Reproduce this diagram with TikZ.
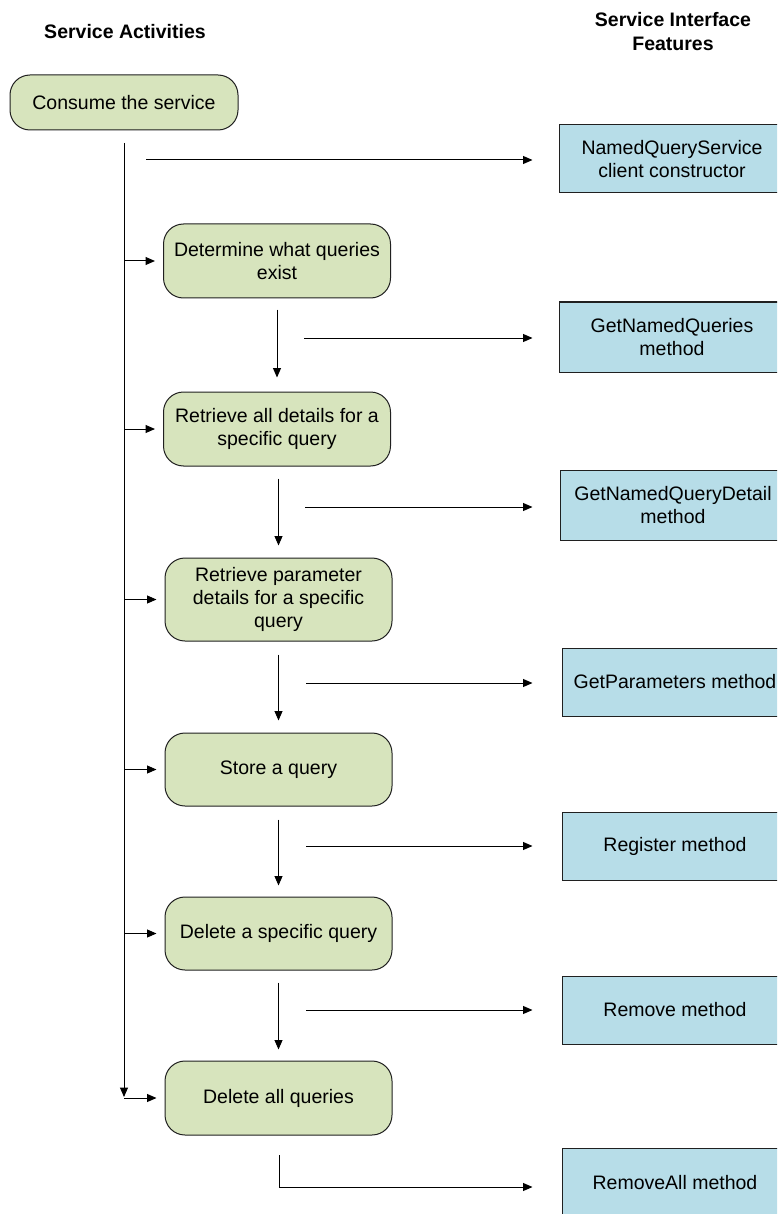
\documentclass[tikz,border=0pt]{standalone}
\usepackage{fontspec}
\setmainfont{Liberation Sans}
\usetikzlibrary{arrows.meta,calc}
\definecolor{actfill}{HTML}{D7E4BD}
\definecolor{featfill}{HTML}{B7DDE8}
\definecolor{edge}{HTML}{202020}
\begin{document}
\begin{tikzpicture}[x=1pt,y=-1pt,
  every node/.style={font=\fontsize{19.5}{23}\selectfont, align=center, inner sep=0pt},
  activity/.style={draw=edge, line width=1pt, fill=actfill, rounded corners=20pt,
    minimum width=227pt},
  feature/.style={draw=edge, line width=1pt, fill=featfill, minimum width=226pt},
  heading/.style={font=\fontsize{19.5}{24}\selectfont\bfseries},
  flow/.style={line width=1pt, -{Triangle[length=9.5pt,width=8pt]}},
  plain/.style={line width=1pt}]
\clip (0,0) rectangle (777,1214);
\fill[white] (0,0) rectangle (777,1214);

% column headings
\node[heading] (h1) at (125,32) {Service Activities};
\node[heading] (h2) at (673,32) {Service Interface\\Features};

% activities
\node[activity, minimum width=228pt, minimum height=55pt] (cons) at (124,102.5) {Consume the service};
\node[activity, minimum height=74pt] (det) at (277,261) {Determine what queries\\exist};
\node[activity, minimum height=74pt] (ret) at (277,429) {Retrieve all details for a\\specific query};
\node[activity, minimum height=83pt] (par) at (278.5,599.5) {Retrieve parameter\\details for a specific\\query};
\node[activity, minimum height=73pt] (sto) at (278.5,769.5) {Store a query};
\node[activity, minimum height=73pt] (del) at (278.5,933.5) {Delete a specific query};
\node[activity, minimum height=74pt] (dall) at (278.5,1098) {Delete all queries};

% interface features
\node[feature, minimum height=68pt] (f1) at (672,159) {NamedQueryService\\client constructor};
\node[feature, minimum height=70pt] (f2) at (672,337) {GetNamedQueries\\method};
\node[feature, minimum height=70pt] (f3) at (673,505) {GetNamedQueryDetail\\method};
\node[feature, minimum height=68pt] (f4) at (675,682) {GetParameters method};
\node[feature, minimum height=68pt] (f5) at (675,846) {Register method};
\node[feature, minimum height=68pt] (f6) at (675,1010) {Remove method};
\node[feature, minimum height=70pt] (f7) at (675,1183) {RemoveAll method};

% spine running down from the first activity
\coordinate (s0) at (124,143);
\coordinate (s1) at (124,1097);
\draw[flow] (s0) -- (s1);
\foreach \n in {det,ret,par,sto,del,dall}
  \draw[flow, shorten >=8pt] (124,0 |- \n.west) -- (\n.west);

% sequence between activities
\draw[flow, shorten <=11pt, shorten >=14pt] (det.south) -- (det.south |- ret.north);
\draw[flow, shorten <=12pt, shorten >=12pt] (par.north |- ret.south) -- (par.north);
\draw[flow, shorten <=13pt, shorten >=12pt] (par.south) -- (sto.north);
\draw[flow, shorten <=13pt, shorten >=11pt] (sto.south) -- (del.north);
\draw[flow, shorten <=12pt, shorten >=11pt] (del.south) -- (dall.north);

% links from activities to interface features
\coordinate (a1) at (146,160);
\coordinate (a2) at (304,338);
\coordinate (a3) at (305,507);
\coordinate (a4) at (306,683);
\coordinate (a5) at (306,846);
\coordinate (a6) at (306,1010);
\draw[flow, shorten >=26pt] (a1) -- (a1 -| f1.west);
\draw[flow, shorten >=26pt] (a2) -- (a2 -| f2.west);
\draw[flow, shorten >=27pt] (a3) -- (a3 -| f3.west);
\draw[flow, shorten >=29pt] (a4) -- (a4 -| f4.west);
\draw[flow, shorten >=29pt] (a5) -- (a5 -| f5.west);
\draw[flow, shorten >=29pt] (a6) -- (a6 -| f6.west);
\coordinate (b0) at (279,1155);
\coordinate (b1) at (279,1187);
\draw[flow, shorten >=29pt] (b0) -- (b1) -- (b1 -| f7.west);
\end{tikzpicture}
\end{document}
